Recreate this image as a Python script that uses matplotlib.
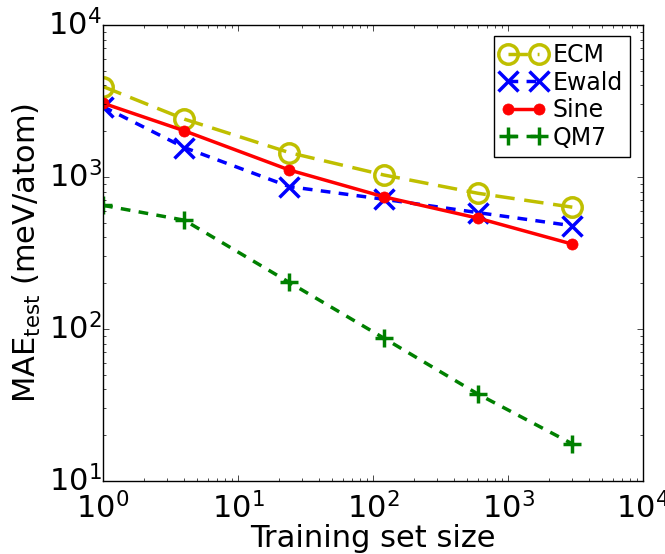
import numpy as np
import matplotlib
matplotlib.use('Agg')
import matplotlib.pyplot as plt

plt.style.use('classic')
plt.rcParams['mathtext.fontset'] = 'dejavusans'
plt.rcParams['mathtext.default'] = 'regular'

# training set sizes and test MAE (meV/atom)
train_size = [1, 4, 24, 120, 600, 3000]
mae_ecm = [3930, 2400, 1445, 1030, 780, 632]
mae_ewald = [2900, 1560, 863, 713, 582, 477]
mae_sine = [3055, 2010, 1110, 740, 535, 361]
mae_qm7 = [650, 519, 202, 87, 37.2, 17.5]

fig = plt.figure(figsize=(6.65, 5.54), dpi=100, facecolor='white')
ax = fig.add_axes([0.155, 0.132, 0.812, 0.823])

ax.plot(train_size, mae_ecm, color='y', marker='o', markersize=14, markerfacecolor='none',
        markeredgecolor='y', markeredgewidth=2.5, linewidth=2.5, dashes=(14, 7), label='ECM')
ax.plot(train_size, mae_ewald, color='b', marker='x', markersize=14, markeredgewidth=2.5,
        linewidth=2.5, dashes=(7, 6), label='Ewald')
ax.plot(train_size, mae_sine, color='r', marker='o', markersize=8, markeredgecolor='r',
        linewidth=2.5, linestyle='-', label='Sine')
ax.plot(train_size, mae_qm7, color='g', marker='+', markersize=13, markeredgewidth=2.5,
        linewidth=2.5, dashes=(7, 6), label='QM7')

ax.set_xscale('log')
ax.set_yscale('log')
ax.set_xlim(1, 1e4)
ax.set_ylim(10, 1e4)
ax.tick_params(axis='x', which='major', labelsize=22, pad=8)
ax.tick_params(axis='y', which='major', labelsize=22, pad=1)
ax.set_xlabel('Training set size', fontsize=22, labelpad=0)
ax.set_ylabel(r'MAE$_{\rm test}$ (meV/atom)', fontsize=22, labelpad=4)
ax.legend(loc='upper right', bbox_to_anchor=(630 / 665, 1 - 36 / 554),
          bbox_transform=fig.transFigure, borderaxespad=0,
          fontsize=17, numpoints=2, handlelength=1.9, handletextpad=0.3,
          borderpad=0.3, labelspacing=0.15)

fig.savefig('out.png', dpi=100, facecolor='white')
